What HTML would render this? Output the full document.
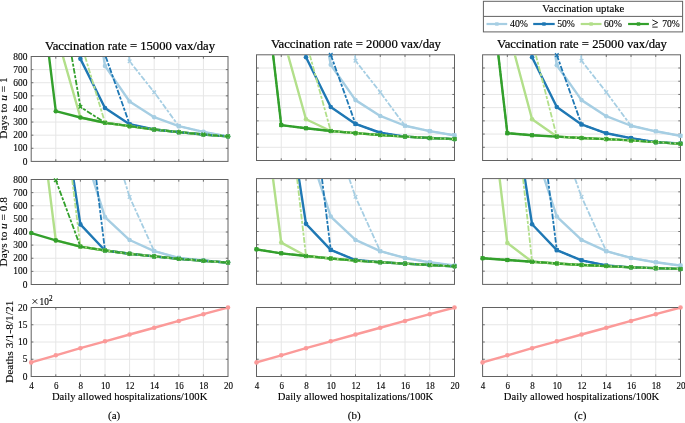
<!DOCTYPE html><html><head><meta charset="utf-8"><title>Vaccination uptake</title><style>html,body{margin:0;padding:0;background:#fff;}body{width:685px;height:423px;overflow:hidden;}svg{display:block;will-change:transform;}text{font-family:"Liberation Serif", serif;fill:#000;stroke:#000;stroke-width:0.12px;}.tt{stroke-width:0.22px;}</style></head><body>
<svg width="685" height="423" viewBox="0 0 685 423">
<rect x="0" y="0" width="685" height="423" fill="#fff"/>
<defs>
<clipPath id="c00"><rect x="31.7" y="57" width="195.8" height="103.9"/></clipPath>
<clipPath id="c01"><rect x="31.7" y="180" width="195.8" height="104"/></clipPath>
<clipPath id="c02"><rect x="31.7" y="308" width="195.8" height="68"/></clipPath>
<clipPath id="c10"><rect x="257" y="55.3" width="197" height="104.7"/></clipPath>
<clipPath id="c11"><rect x="257" y="179.1" width="197" height="104.8"/></clipPath>
<clipPath id="c12"><rect x="257" y="308" width="197" height="68"/></clipPath>
<clipPath id="c20"><rect x="483.1" y="55.3" width="196.9" height="104.7"/></clipPath>
<clipPath id="c21"><rect x="483.1" y="179.1" width="196.9" height="104.8"/></clipPath>
<clipPath id="c22"><rect x="483.1" y="308" width="196.9" height="68"/></clipPath>
</defs>
<path d="M55.8 56.5V161.4M80.4 56.5V161.4M105 56.5V161.4M129.6 56.5V161.4M154.2 56.5V161.4M178.8 56.5V161.4M203.4 56.5V161.4M31.2 148.29H228M31.2 135.18H228M31.2 122.06H228M31.2 108.95H228M31.2 95.84H228M31.2 82.73H228M31.2 69.61H228" stroke="#e6e6e6" stroke-width="1" fill="none"/>
<path d="M55.8 161.4v-2.2M55.8 56.5v2.2M80.4 161.4v-2.2M80.4 56.5v2.2M105 161.4v-2.2M105 56.5v2.2M129.6 161.4v-2.2M129.6 56.5v2.2M154.2 161.4v-2.2M154.2 56.5v2.2M178.8 161.4v-2.2M178.8 56.5v2.2M203.4 161.4v-2.2M203.4 56.5v2.2M31.2 148.29h2.2M228 148.29h-2.2M31.2 135.18h2.2M228 135.18h-2.2M31.2 122.06h2.2M228 122.06h-2.2M31.2 108.95h2.2M228 108.95h-2.2M31.2 95.84h2.2M228 95.84h-2.2M31.2 82.73h2.2M228 82.73h-2.2M31.2 69.61h2.2M228 69.61h-2.2" stroke="#626262" stroke-width="0.9" fill="none"/>
<rect x="31.2" y="56.5" width="196.8" height="104.9" fill="none" stroke="#626262" stroke-width="1"/>
<g clip-path="url(#c00)">
<path d="M103.49 56.5 L105 65.94 L129.6 101.48 L154.2 117.21 L178.8 126.13 L203.4 131.9 L228 136.36" fill="none" stroke="#a6cee3" stroke-width="2.4" stroke-linejoin="round"/>
</g>
<circle cx="105" cy="65.94" r="2.3" fill="#a6cee3"/>
<circle cx="129.6" cy="101.48" r="2.3" fill="#a6cee3"/>
<circle cx="154.2" cy="117.21" r="2.3" fill="#a6cee3"/>
<circle cx="178.8" cy="126.13" r="2.3" fill="#a6cee3"/>
<circle cx="203.4" cy="131.9" r="2.3" fill="#a6cee3"/>
<circle cx="228" cy="136.36" r="2.3" fill="#a6cee3"/>
<g clip-path="url(#c00)">
<path d="M80.2 56.5 L80.4 58.86 L105 108.03 L129.6 124.29 L154.2 129.54 L178.8 132.16 L203.4 134.52 L228 136.36" fill="none" stroke="#1f78b4" stroke-width="2.4" stroke-linejoin="round"/>
</g>
<circle cx="80.4" cy="58.86" r="2.3" fill="#1f78b4"/>
<circle cx="105" cy="108.03" r="2.3" fill="#1f78b4"/>
<circle cx="129.6" cy="124.29" r="2.3" fill="#1f78b4"/>
<circle cx="154.2" cy="129.54" r="2.3" fill="#1f78b4"/>
<circle cx="178.8" cy="132.16" r="2.3" fill="#1f78b4"/>
<circle cx="203.4" cy="134.52" r="2.3" fill="#1f78b4"/>
<circle cx="228" cy="136.36" r="2.3" fill="#1f78b4"/>
<g clip-path="url(#c00)">
<path d="M62.94 56.5 L80.4 117.47 L105 122.72 L129.6 126.13 L154.2 129.54 L178.8 132.16 L203.4 134.52 L228 136.36" fill="none" stroke="#b2df8a" stroke-width="2.4" stroke-linejoin="round"/>
</g>
<circle cx="80.4" cy="117.47" r="2.3" fill="#b2df8a"/>
<circle cx="105" cy="122.72" r="2.3" fill="#b2df8a"/>
<circle cx="129.6" cy="126.13" r="2.3" fill="#b2df8a"/>
<circle cx="154.2" cy="129.54" r="2.3" fill="#b2df8a"/>
<circle cx="178.8" cy="132.16" r="2.3" fill="#b2df8a"/>
<circle cx="203.4" cy="134.52" r="2.3" fill="#b2df8a"/>
<circle cx="228" cy="136.36" r="2.3" fill="#b2df8a"/>
<g clip-path="url(#c00)">
<path d="M49.04 56.5 L55.8 111.18 L80.4 117.47 L105 122.72 L129.6 126.13 L154.2 129.54 L178.8 132.16 L203.4 134.52 L228 136.36" fill="none" stroke="#33a02c" stroke-width="2.4" stroke-linejoin="round"/>
</g>
<circle cx="55.8" cy="111.18" r="2.3" fill="#33a02c"/>
<circle cx="80.4" cy="117.47" r="2.3" fill="#33a02c"/>
<circle cx="105" cy="122.72" r="2.3" fill="#33a02c"/>
<circle cx="129.6" cy="126.13" r="2.3" fill="#33a02c"/>
<circle cx="154.2" cy="129.54" r="2.3" fill="#33a02c"/>
<circle cx="178.8" cy="132.16" r="2.3" fill="#33a02c"/>
<circle cx="203.4" cy="134.52" r="2.3" fill="#33a02c"/>
<circle cx="228" cy="136.36" r="2.3" fill="#33a02c"/>
<g clip-path="url(#c00)">
<path d="M129.01 56.5 L129.6 61.35 L154.2 92.3 L178.8 126.13 L203.4 131.9 L228 136.36" fill="none" stroke="#a6cee3" stroke-width="1.8" stroke-dasharray="5.6 1.6 3 1.6"/>
</g>
<path d="M127.8 59.55l3.6 3.6m0 -3.6l-3.6 3.6" stroke="#a6cee3" stroke-width="1.3" fill="none"/>
<path d="M152.4 90.5l3.6 3.6m0 -3.6l-3.6 3.6" stroke="#a6cee3" stroke-width="1.3" fill="none"/>
<path d="M177 124.33l3.6 3.6m0 -3.6l-3.6 3.6" stroke="#a6cee3" stroke-width="1.3" fill="none"/>
<path d="M201.6 130.1l3.6 3.6m0 -3.6l-3.6 3.6" stroke="#a6cee3" stroke-width="1.3" fill="none"/>
<path d="M226.2 134.56l3.6 3.6m0 -3.6l-3.6 3.6" stroke="#a6cee3" stroke-width="1.3" fill="none"/>
<g clip-path="url(#c00)">
<path d="M105.69 56.5 L129.6 124.29 L154.2 129.54 L178.8 132.16 L203.4 134.52 L228 136.36" fill="none" stroke="#1f78b4" stroke-width="1.8" stroke-dasharray="5.6 1.6 3 1.6"/>
</g>
<path d="M127.8 122.49l3.6 3.6m0 -3.6l-3.6 3.6" stroke="#1f78b4" stroke-width="1.3" fill="none"/>
<path d="M152.4 127.74l3.6 3.6m0 -3.6l-3.6 3.6" stroke="#1f78b4" stroke-width="1.3" fill="none"/>
<path d="M177 130.36l3.6 3.6m0 -3.6l-3.6 3.6" stroke="#1f78b4" stroke-width="1.3" fill="none"/>
<path d="M201.6 132.72l3.6 3.6m0 -3.6l-3.6 3.6" stroke="#1f78b4" stroke-width="1.3" fill="none"/>
<path d="M226.2 134.56l3.6 3.6m0 -3.6l-3.6 3.6" stroke="#1f78b4" stroke-width="1.3" fill="none"/>
<g clip-path="url(#c00)">
<path d="M85.06 56.5 L105 122.72 L129.6 126.13 L154.2 129.54 L178.8 132.16 L203.4 134.52 L228 136.36" fill="none" stroke="#b2df8a" stroke-width="1.8" stroke-dasharray="5.6 1.6 3 1.6"/>
</g>
<path d="M103.2 120.92l3.6 3.6m0 -3.6l-3.6 3.6" stroke="#b2df8a" stroke-width="1.3" fill="none"/>
<path d="M127.8 124.33l3.6 3.6m0 -3.6l-3.6 3.6" stroke="#b2df8a" stroke-width="1.3" fill="none"/>
<path d="M152.4 127.74l3.6 3.6m0 -3.6l-3.6 3.6" stroke="#b2df8a" stroke-width="1.3" fill="none"/>
<path d="M177 130.36l3.6 3.6m0 -3.6l-3.6 3.6" stroke="#b2df8a" stroke-width="1.3" fill="none"/>
<path d="M201.6 132.72l3.6 3.6m0 -3.6l-3.6 3.6" stroke="#b2df8a" stroke-width="1.3" fill="none"/>
<path d="M226.2 134.56l3.6 3.6m0 -3.6l-3.6 3.6" stroke="#b2df8a" stroke-width="1.3" fill="none"/>
<g clip-path="url(#c00)">
<path d="M71.69 56.5 L80.4 106.85 L105 122.72 L129.6 126.13 L154.2 129.54 L178.8 132.16 L203.4 134.52 L228 136.36" fill="none" stroke="#33a02c" stroke-width="1.8" stroke-dasharray="5.6 1.6 3 1.6"/>
</g>
<path d="M78.6 105.05l3.6 3.6m0 -3.6l-3.6 3.6" stroke="#33a02c" stroke-width="1.3" fill="none"/>
<path d="M103.2 120.92l3.6 3.6m0 -3.6l-3.6 3.6" stroke="#33a02c" stroke-width="1.3" fill="none"/>
<path d="M127.8 124.33l3.6 3.6m0 -3.6l-3.6 3.6" stroke="#33a02c" stroke-width="1.3" fill="none"/>
<path d="M152.4 127.74l3.6 3.6m0 -3.6l-3.6 3.6" stroke="#33a02c" stroke-width="1.3" fill="none"/>
<path d="M177 130.36l3.6 3.6m0 -3.6l-3.6 3.6" stroke="#33a02c" stroke-width="1.3" fill="none"/>
<path d="M201.6 132.72l3.6 3.6m0 -3.6l-3.6 3.6" stroke="#33a02c" stroke-width="1.3" fill="none"/>
<path d="M226.2 134.56l3.6 3.6m0 -3.6l-3.6 3.6" stroke="#33a02c" stroke-width="1.3" fill="none"/>
<text x="27.4" y="164.5" font-size="10" text-anchor="end" textLength="4.72" lengthAdjust="spacingAndGlyphs">0</text>
<text x="27.4" y="151.39" font-size="10" text-anchor="end" textLength="14.16" lengthAdjust="spacingAndGlyphs">100</text>
<text x="27.4" y="138.28" font-size="10" text-anchor="end" textLength="14.16" lengthAdjust="spacingAndGlyphs">200</text>
<text x="27.4" y="125.16" font-size="10" text-anchor="end" textLength="14.16" lengthAdjust="spacingAndGlyphs">300</text>
<text x="27.4" y="112.05" font-size="10" text-anchor="end" textLength="14.16" lengthAdjust="spacingAndGlyphs">400</text>
<text x="27.4" y="98.94" font-size="10" text-anchor="end" textLength="14.16" lengthAdjust="spacingAndGlyphs">500</text>
<text x="27.4" y="85.83" font-size="10" text-anchor="end" textLength="14.16" lengthAdjust="spacingAndGlyphs">600</text>
<text x="27.4" y="72.71" font-size="10" text-anchor="end" textLength="14.16" lengthAdjust="spacingAndGlyphs">700</text>
<text x="27.4" y="59.6" font-size="10" text-anchor="end" textLength="14.16" lengthAdjust="spacingAndGlyphs">800</text>
<path d="M55.8 179.5V284.5M80.4 179.5V284.5M105 179.5V284.5M129.6 179.5V284.5M154.2 179.5V284.5M178.8 179.5V284.5M203.4 179.5V284.5M31.2 271.38H228M31.2 258.25H228M31.2 245.12H228M31.2 232H228M31.2 218.88H228M31.2 205.75H228M31.2 192.62H228" stroke="#e6e6e6" stroke-width="1" fill="none"/>
<path d="M55.8 284.5v-2.2M55.8 179.5v2.2M80.4 284.5v-2.2M80.4 179.5v2.2M105 284.5v-2.2M105 179.5v2.2M129.6 284.5v-2.2M129.6 179.5v2.2M154.2 284.5v-2.2M154.2 179.5v2.2M178.8 284.5v-2.2M178.8 179.5v2.2M203.4 284.5v-2.2M203.4 179.5v2.2M31.2 271.38h2.2M228 271.38h-2.2M31.2 258.25h2.2M228 258.25h-2.2M31.2 245.12h2.2M228 245.12h-2.2M31.2 232h2.2M228 232h-2.2M31.2 218.88h2.2M228 218.88h-2.2M31.2 205.75h2.2M228 205.75h-2.2M31.2 192.62h2.2M228 192.62h-2.2" stroke="#626262" stroke-width="0.9" fill="none"/>
<rect x="31.2" y="179.5" width="196.8" height="105" fill="none" stroke="#626262" stroke-width="1"/>
<g clip-path="url(#c01)">
<path d="M93.07 179.5 L105 217.17 L129.6 240.01 L154.2 251.16 L178.8 257.86 L203.4 260.35 L228 262.58" fill="none" stroke="#a6cee3" stroke-width="2.4" stroke-linejoin="round"/>
</g>
<circle cx="105" cy="217.17" r="2.3" fill="#a6cee3"/>
<circle cx="129.6" cy="240.01" r="2.3" fill="#a6cee3"/>
<circle cx="154.2" cy="251.16" r="2.3" fill="#a6cee3"/>
<circle cx="178.8" cy="257.86" r="2.3" fill="#a6cee3"/>
<circle cx="203.4" cy="260.35" r="2.3" fill="#a6cee3"/>
<circle cx="228" cy="262.58" r="2.3" fill="#a6cee3"/>
<g clip-path="url(#c01)">
<path d="M73.52 179.5 L80.4 224.39 L105 250.51 L129.6 253.79 L154.2 256.41 L178.8 258.77 L203.4 260.74 L228 262.58" fill="none" stroke="#1f78b4" stroke-width="2.4" stroke-linejoin="round"/>
</g>
<circle cx="80.4" cy="224.39" r="2.3" fill="#1f78b4"/>
<circle cx="105" cy="250.51" r="2.3" fill="#1f78b4"/>
<circle cx="129.6" cy="253.79" r="2.3" fill="#1f78b4"/>
<circle cx="154.2" cy="256.41" r="2.3" fill="#1f78b4"/>
<circle cx="178.8" cy="258.77" r="2.3" fill="#1f78b4"/>
<circle cx="203.4" cy="260.74" r="2.3" fill="#1f78b4"/>
<circle cx="228" cy="262.58" r="2.3" fill="#1f78b4"/>
<g clip-path="url(#c01)">
<path d="M48.18 179.5 L55.8 240.4 L80.4 246.57 L105 250.51 L129.6 253.79 L154.2 256.41 L178.8 258.77 L203.4 260.74 L228 262.58" fill="none" stroke="#b2df8a" stroke-width="2.4" stroke-linejoin="round"/>
</g>
<circle cx="55.8" cy="240.4" r="2.3" fill="#b2df8a"/>
<circle cx="80.4" cy="246.57" r="2.3" fill="#b2df8a"/>
<circle cx="105" cy="250.51" r="2.3" fill="#b2df8a"/>
<circle cx="129.6" cy="253.79" r="2.3" fill="#b2df8a"/>
<circle cx="154.2" cy="256.41" r="2.3" fill="#b2df8a"/>
<circle cx="178.8" cy="258.77" r="2.3" fill="#b2df8a"/>
<circle cx="203.4" cy="260.74" r="2.3" fill="#b2df8a"/>
<circle cx="228" cy="262.58" r="2.3" fill="#b2df8a"/>
<g clip-path="url(#c01)">
<path d="M31.2 233.05 L55.8 240.4 L80.4 246.57 L105 250.51 L129.6 253.79 L154.2 256.41 L178.8 258.77 L203.4 260.74 L228 262.58" fill="none" stroke="#33a02c" stroke-width="2.4" stroke-linejoin="round"/>
</g>
<circle cx="31.2" cy="233.05" r="2.3" fill="#33a02c"/>
<circle cx="55.8" cy="240.4" r="2.3" fill="#33a02c"/>
<circle cx="80.4" cy="246.57" r="2.3" fill="#33a02c"/>
<circle cx="105" cy="250.51" r="2.3" fill="#33a02c"/>
<circle cx="129.6" cy="253.79" r="2.3" fill="#33a02c"/>
<circle cx="154.2" cy="256.41" r="2.3" fill="#33a02c"/>
<circle cx="178.8" cy="258.77" r="2.3" fill="#33a02c"/>
<circle cx="203.4" cy="260.74" r="2.3" fill="#33a02c"/>
<circle cx="228" cy="262.58" r="2.3" fill="#33a02c"/>
<g clip-path="url(#c01)">
<path d="M124.2 179.5 L129.6 196.96 L154.2 251.16 L178.8 257.86 L203.4 260.35 L228 262.58" fill="none" stroke="#a6cee3" stroke-width="1.8" stroke-dasharray="5.6 1.6 3 1.6"/>
</g>
<path d="M127.8 195.16l3.6 3.6m0 -3.6l-3.6 3.6" stroke="#a6cee3" stroke-width="1.3" fill="none"/>
<path d="M152.4 249.36l3.6 3.6m0 -3.6l-3.6 3.6" stroke="#a6cee3" stroke-width="1.3" fill="none"/>
<path d="M177 256.06l3.6 3.6m0 -3.6l-3.6 3.6" stroke="#a6cee3" stroke-width="1.3" fill="none"/>
<path d="M201.6 258.55l3.6 3.6m0 -3.6l-3.6 3.6" stroke="#a6cee3" stroke-width="1.3" fill="none"/>
<path d="M226.2 260.78l3.6 3.6m0 -3.6l-3.6 3.6" stroke="#a6cee3" stroke-width="1.3" fill="none"/>
<g clip-path="url(#c01)">
<path d="M96.27 179.5 L105 250.51 L129.6 253.79 L154.2 256.41 L178.8 258.77 L203.4 260.74 L228 262.58" fill="none" stroke="#1f78b4" stroke-width="1.8" stroke-dasharray="5.6 1.6 3 1.6"/>
</g>
<path d="M103.2 248.71l3.6 3.6m0 -3.6l-3.6 3.6" stroke="#1f78b4" stroke-width="1.3" fill="none"/>
<path d="M127.8 251.99l3.6 3.6m0 -3.6l-3.6 3.6" stroke="#1f78b4" stroke-width="1.3" fill="none"/>
<path d="M152.4 254.61l3.6 3.6m0 -3.6l-3.6 3.6" stroke="#1f78b4" stroke-width="1.3" fill="none"/>
<path d="M177 256.97l3.6 3.6m0 -3.6l-3.6 3.6" stroke="#1f78b4" stroke-width="1.3" fill="none"/>
<path d="M201.6 258.94l3.6 3.6m0 -3.6l-3.6 3.6" stroke="#1f78b4" stroke-width="1.3" fill="none"/>
<path d="M226.2 260.78l3.6 3.6m0 -3.6l-3.6 3.6" stroke="#1f78b4" stroke-width="1.3" fill="none"/>
<g clip-path="url(#c01)">
<path d="M72.16 179.5 L80.4 246.57 L105 250.51 L129.6 253.79 L154.2 256.41 L178.8 258.77 L203.4 260.74 L228 262.58" fill="none" stroke="#b2df8a" stroke-width="1.8" stroke-dasharray="5.6 1.6 3 1.6"/>
</g>
<path d="M78.6 244.77l3.6 3.6m0 -3.6l-3.6 3.6" stroke="#b2df8a" stroke-width="1.3" fill="none"/>
<path d="M103.2 248.71l3.6 3.6m0 -3.6l-3.6 3.6" stroke="#b2df8a" stroke-width="1.3" fill="none"/>
<path d="M127.8 251.99l3.6 3.6m0 -3.6l-3.6 3.6" stroke="#b2df8a" stroke-width="1.3" fill="none"/>
<path d="M152.4 254.61l3.6 3.6m0 -3.6l-3.6 3.6" stroke="#b2df8a" stroke-width="1.3" fill="none"/>
<path d="M177 256.97l3.6 3.6m0 -3.6l-3.6 3.6" stroke="#b2df8a" stroke-width="1.3" fill="none"/>
<path d="M201.6 258.94l3.6 3.6m0 -3.6l-3.6 3.6" stroke="#b2df8a" stroke-width="1.3" fill="none"/>
<path d="M226.2 260.78l3.6 3.6m0 -3.6l-3.6 3.6" stroke="#b2df8a" stroke-width="1.3" fill="none"/>
<g clip-path="url(#c01)">
<path d="M55.74 179.5 L55.8 180.16 L80.4 246.57 L105 250.51 L129.6 253.79 L154.2 256.41 L178.8 258.77 L203.4 260.74 L228 262.58" fill="none" stroke="#33a02c" stroke-width="1.8" stroke-dasharray="5.6 1.6 3 1.6"/>
</g>
<path d="M54 178.36l3.6 3.6m0 -3.6l-3.6 3.6" stroke="#33a02c" stroke-width="1.3" fill="none"/>
<path d="M78.6 244.77l3.6 3.6m0 -3.6l-3.6 3.6" stroke="#33a02c" stroke-width="1.3" fill="none"/>
<path d="M103.2 248.71l3.6 3.6m0 -3.6l-3.6 3.6" stroke="#33a02c" stroke-width="1.3" fill="none"/>
<path d="M127.8 251.99l3.6 3.6m0 -3.6l-3.6 3.6" stroke="#33a02c" stroke-width="1.3" fill="none"/>
<path d="M152.4 254.61l3.6 3.6m0 -3.6l-3.6 3.6" stroke="#33a02c" stroke-width="1.3" fill="none"/>
<path d="M177 256.97l3.6 3.6m0 -3.6l-3.6 3.6" stroke="#33a02c" stroke-width="1.3" fill="none"/>
<path d="M201.6 258.94l3.6 3.6m0 -3.6l-3.6 3.6" stroke="#33a02c" stroke-width="1.3" fill="none"/>
<path d="M226.2 260.78l3.6 3.6m0 -3.6l-3.6 3.6" stroke="#33a02c" stroke-width="1.3" fill="none"/>
<text x="27.4" y="287.6" font-size="10" text-anchor="end" textLength="4.72" lengthAdjust="spacingAndGlyphs">0</text>
<text x="27.4" y="274.48" font-size="10" text-anchor="end" textLength="14.16" lengthAdjust="spacingAndGlyphs">100</text>
<text x="27.4" y="261.35" font-size="10" text-anchor="end" textLength="14.16" lengthAdjust="spacingAndGlyphs">200</text>
<text x="27.4" y="248.22" font-size="10" text-anchor="end" textLength="14.16" lengthAdjust="spacingAndGlyphs">300</text>
<text x="27.4" y="235.1" font-size="10" text-anchor="end" textLength="14.16" lengthAdjust="spacingAndGlyphs">400</text>
<text x="27.4" y="221.97" font-size="10" text-anchor="end" textLength="14.16" lengthAdjust="spacingAndGlyphs">500</text>
<text x="27.4" y="208.85" font-size="10" text-anchor="end" textLength="14.16" lengthAdjust="spacingAndGlyphs">600</text>
<text x="27.4" y="195.72" font-size="10" text-anchor="end" textLength="14.16" lengthAdjust="spacingAndGlyphs">700</text>
<text x="27.4" y="182.6" font-size="10" text-anchor="end" textLength="14.16" lengthAdjust="spacingAndGlyphs">800</text>
<path d="M55.8 307.5V376.5M80.4 307.5V376.5M105 307.5V376.5M129.6 307.5V376.5M154.2 307.5V376.5M178.8 307.5V376.5M203.4 307.5V376.5M31.2 359.25H228M31.2 342H228M31.2 324.75H228" stroke="#e6e6e6" stroke-width="1" fill="none"/>
<path d="M55.8 376.5v-2.2M55.8 307.5v2.2M80.4 376.5v-2.2M80.4 307.5v2.2M105 376.5v-2.2M105 307.5v2.2M129.6 376.5v-2.2M129.6 307.5v2.2M154.2 376.5v-2.2M154.2 307.5v2.2M178.8 376.5v-2.2M178.8 307.5v2.2M203.4 376.5v-2.2M203.4 307.5v2.2M31.2 359.25h2.2M228 359.25h-2.2M31.2 342h2.2M228 342h-2.2M31.2 324.75h2.2M228 324.75h-2.2" stroke="#626262" stroke-width="0.9" fill="none"/>
<rect x="31.2" y="307.5" width="196.8" height="69" fill="none" stroke="#626262" stroke-width="1"/>
<g clip-path="url(#c02)">
<path d="M31.2 362.42 L55.8 355.32 L80.4 348.21 L105 341.31 L129.6 334.51 L154.2 327.75 L178.8 320.95 L203.4 314.19 L228 307.5" fill="none" stroke="#fb9a99" stroke-width="2.4" stroke-linejoin="round"/>
</g>
<circle cx="31.2" cy="362.42" r="2.3" fill="#fb9a99"/>
<circle cx="55.8" cy="355.32" r="2.3" fill="#fb9a99"/>
<circle cx="80.4" cy="348.21" r="2.3" fill="#fb9a99"/>
<circle cx="105" cy="341.31" r="2.3" fill="#fb9a99"/>
<circle cx="129.6" cy="334.51" r="2.3" fill="#fb9a99"/>
<circle cx="154.2" cy="327.75" r="2.3" fill="#fb9a99"/>
<circle cx="178.8" cy="320.95" r="2.3" fill="#fb9a99"/>
<circle cx="203.4" cy="314.19" r="2.3" fill="#fb9a99"/>
<circle cx="228" cy="307.5" r="2.3" fill="#fb9a99"/>
<text x="27.4" y="379.6" font-size="10" text-anchor="end" textLength="4.72" lengthAdjust="spacingAndGlyphs">0</text>
<text x="27.4" y="362.35" font-size="10" text-anchor="end" textLength="4.72" lengthAdjust="spacingAndGlyphs">5</text>
<text x="27.4" y="345.1" font-size="10" text-anchor="end" textLength="9.44" lengthAdjust="spacingAndGlyphs">10</text>
<text x="27.4" y="327.85" font-size="10" text-anchor="end" textLength="9.44" lengthAdjust="spacingAndGlyphs">15</text>
<text x="27.4" y="310.6" font-size="10" text-anchor="end" textLength="9.44" lengthAdjust="spacingAndGlyphs">20</text>
<text x="31.6" y="388.6" font-size="10" text-anchor="middle" textLength="4.5" lengthAdjust="spacingAndGlyphs">4</text>
<text x="56.2" y="388.6" font-size="10" text-anchor="middle" textLength="4.5" lengthAdjust="spacingAndGlyphs">6</text>
<text x="80.8" y="388.6" font-size="10" text-anchor="middle" textLength="4.5" lengthAdjust="spacingAndGlyphs">8</text>
<text x="105.4" y="388.6" font-size="10" text-anchor="middle" textLength="9" lengthAdjust="spacingAndGlyphs">10</text>
<text x="130" y="388.6" font-size="10" text-anchor="middle" textLength="9" lengthAdjust="spacingAndGlyphs">12</text>
<text x="154.6" y="388.6" font-size="10" text-anchor="middle" textLength="9" lengthAdjust="spacingAndGlyphs">14</text>
<text x="179.2" y="388.6" font-size="10" text-anchor="middle" textLength="9" lengthAdjust="spacingAndGlyphs">16</text>
<text x="203.8" y="388.6" font-size="10" text-anchor="middle" textLength="9" lengthAdjust="spacingAndGlyphs">18</text>
<text x="228.4" y="388.6" font-size="10" text-anchor="middle" textLength="9" lengthAdjust="spacingAndGlyphs">20</text>
<text x="129.6" y="400.1" font-size="9.8" text-anchor="middle" textLength="155.4" lengthAdjust="spacingAndGlyphs">Daily allowed hospitalizations/100K</text>
<text class="tt" x="130" y="50.1" font-size="12" text-anchor="middle" textLength="170" lengthAdjust="spacingAndGlyphs">Vaccination rate = 15000 vax/day</text>
<path d="M281.25 54.8V160.5M306 54.8V160.5M330.75 54.8V160.5M355.5 54.8V160.5M380.25 54.8V160.5M405 54.8V160.5M429.75 54.8V160.5M256.5 147.29H454.5M256.5 134.07H454.5M256.5 120.86H454.5M256.5 107.65H454.5M256.5 94.44H454.5M256.5 81.22H454.5M256.5 68.01H454.5" stroke="#e6e6e6" stroke-width="1" fill="none"/>
<path d="M281.25 160.5v-2.2M281.25 54.8v2.2M306 160.5v-2.2M306 54.8v2.2M330.75 160.5v-2.2M330.75 54.8v2.2M355.5 160.5v-2.2M355.5 54.8v2.2M380.25 160.5v-2.2M380.25 54.8v2.2M405 160.5v-2.2M405 54.8v2.2M429.75 160.5v-2.2M429.75 54.8v2.2M256.5 147.29h2.2M454.5 147.29h-2.2M256.5 134.07h2.2M454.5 134.07h-2.2M256.5 120.86h2.2M454.5 120.86h-2.2M256.5 107.65h2.2M454.5 107.65h-2.2M256.5 94.44h2.2M454.5 94.44h-2.2M256.5 81.22h2.2M454.5 81.22h-2.2M256.5 68.01h2.2M454.5 68.01h-2.2" stroke="#626262" stroke-width="0.9" fill="none"/>
<rect x="256.5" y="54.8" width="198" height="105.7" fill="none" stroke="#626262" stroke-width="1"/>
<g clip-path="url(#c10)">
<path d="M328.89 54.8 L330.75 64.71 L355.5 100.12 L380.25 115.97 L405 125.75 L429.75 131.17 L454.5 135.4" fill="none" stroke="#a6cee3" stroke-width="2.4" stroke-linejoin="round"/>
</g>
<circle cx="330.75" cy="64.71" r="2.3" fill="#a6cee3"/>
<circle cx="355.5" cy="100.12" r="2.3" fill="#a6cee3"/>
<circle cx="380.25" cy="115.97" r="2.3" fill="#a6cee3"/>
<circle cx="405" cy="125.75" r="2.3" fill="#a6cee3"/>
<circle cx="429.75" cy="131.17" r="2.3" fill="#a6cee3"/>
<circle cx="454.5" cy="135.4" r="2.3" fill="#a6cee3"/>
<g clip-path="url(#c10)">
<path d="M305.79 54.8 L306 57.31 L330.75 106.99 L355.5 123.9 L380.25 132.75 L405 136.59 L429.75 138.04 L454.5 139.1" fill="none" stroke="#1f78b4" stroke-width="2.4" stroke-linejoin="round"/>
</g>
<circle cx="306" cy="57.31" r="2.3" fill="#1f78b4"/>
<circle cx="330.75" cy="106.99" r="2.3" fill="#1f78b4"/>
<circle cx="355.5" cy="123.9" r="2.3" fill="#1f78b4"/>
<circle cx="380.25" cy="132.75" r="2.3" fill="#1f78b4"/>
<circle cx="405" cy="136.59" r="2.3" fill="#1f78b4"/>
<circle cx="429.75" cy="138.04" r="2.3" fill="#1f78b4"/>
<circle cx="454.5" cy="139.1" r="2.3" fill="#1f78b4"/>
<g clip-path="url(#c10)">
<path d="M287.95 54.8 L306 119.28 L330.75 131.04 L355.5 133.15 L380.25 135 L405 136.59 L429.75 138.04 L454.5 139.1" fill="none" stroke="#b2df8a" stroke-width="2.4" stroke-linejoin="round"/>
</g>
<circle cx="306" cy="119.28" r="2.3" fill="#b2df8a"/>
<circle cx="330.75" cy="131.04" r="2.3" fill="#b2df8a"/>
<circle cx="355.5" cy="133.15" r="2.3" fill="#b2df8a"/>
<circle cx="380.25" cy="135" r="2.3" fill="#b2df8a"/>
<circle cx="405" cy="136.59" r="2.3" fill="#b2df8a"/>
<circle cx="429.75" cy="138.04" r="2.3" fill="#b2df8a"/>
<circle cx="454.5" cy="139.1" r="2.3" fill="#b2df8a"/>
<g clip-path="url(#c10)">
<path d="M273.08 54.8 L281.25 125.09 L306 128.26 L330.75 131.04 L355.5 133.15 L380.25 135 L405 136.59 L429.75 138.04 L454.5 139.1" fill="none" stroke="#33a02c" stroke-width="2.4" stroke-linejoin="round"/>
</g>
<circle cx="281.25" cy="125.09" r="2.3" fill="#33a02c"/>
<circle cx="306" cy="128.26" r="2.3" fill="#33a02c"/>
<circle cx="330.75" cy="131.04" r="2.3" fill="#33a02c"/>
<circle cx="355.5" cy="133.15" r="2.3" fill="#33a02c"/>
<circle cx="380.25" cy="135" r="2.3" fill="#33a02c"/>
<circle cx="405" cy="136.59" r="2.3" fill="#33a02c"/>
<circle cx="429.75" cy="138.04" r="2.3" fill="#33a02c"/>
<circle cx="454.5" cy="139.1" r="2.3" fill="#33a02c"/>
<g clip-path="url(#c10)">
<path d="M355 54.8 L355.5 60.75 L380.25 92.19 L405 125.75 L429.75 131.17 L454.5 135.4" fill="none" stroke="#a6cee3" stroke-width="1.8" stroke-dasharray="5.6 1.6 3 1.6"/>
</g>
<path d="M353.7 58.95l3.6 3.6m0 -3.6l-3.6 3.6" stroke="#a6cee3" stroke-width="1.3" fill="none"/>
<path d="M378.45 90.39l3.6 3.6m0 -3.6l-3.6 3.6" stroke="#a6cee3" stroke-width="1.3" fill="none"/>
<path d="M403.2 123.95l3.6 3.6m0 -3.6l-3.6 3.6" stroke="#a6cee3" stroke-width="1.3" fill="none"/>
<path d="M427.95 129.37l3.6 3.6m0 -3.6l-3.6 3.6" stroke="#a6cee3" stroke-width="1.3" fill="none"/>
<path d="M452.7 133.6l3.6 3.6m0 -3.6l-3.6 3.6" stroke="#a6cee3" stroke-width="1.3" fill="none"/>
<g clip-path="url(#c10)">
<path d="M330.75 54.8 L330.75 54.8 L355.5 123.9 L380.25 132.75 L405 136.59 L429.75 138.04 L454.5 139.1" fill="none" stroke="#1f78b4" stroke-width="1.8" stroke-dasharray="5.6 1.6 3 1.6"/>
</g>
<path d="M328.95 53l3.6 3.6m0 -3.6l-3.6 3.6" stroke="#1f78b4" stroke-width="1.3" fill="none"/>
<path d="M353.7 122.1l3.6 3.6m0 -3.6l-3.6 3.6" stroke="#1f78b4" stroke-width="1.3" fill="none"/>
<path d="M378.45 130.95l3.6 3.6m0 -3.6l-3.6 3.6" stroke="#1f78b4" stroke-width="1.3" fill="none"/>
<path d="M403.2 134.79l3.6 3.6m0 -3.6l-3.6 3.6" stroke="#1f78b4" stroke-width="1.3" fill="none"/>
<path d="M427.95 136.24l3.6 3.6m0 -3.6l-3.6 3.6" stroke="#1f78b4" stroke-width="1.3" fill="none"/>
<path d="M452.7 137.3l3.6 3.6m0 -3.6l-3.6 3.6" stroke="#1f78b4" stroke-width="1.3" fill="none"/>
<g clip-path="url(#c10)">
<path d="M309.72 54.8 L330.75 131.04 L355.5 133.15 L380.25 135 L405 136.59 L429.75 138.04 L454.5 139.1" fill="none" stroke="#b2df8a" stroke-width="1.8" stroke-dasharray="5.6 1.6 3 1.6"/>
</g>
<path d="M328.95 129.24l3.6 3.6m0 -3.6l-3.6 3.6" stroke="#b2df8a" stroke-width="1.3" fill="none"/>
<path d="M353.7 131.35l3.6 3.6m0 -3.6l-3.6 3.6" stroke="#b2df8a" stroke-width="1.3" fill="none"/>
<path d="M378.45 133.2l3.6 3.6m0 -3.6l-3.6 3.6" stroke="#b2df8a" stroke-width="1.3" fill="none"/>
<path d="M403.2 134.79l3.6 3.6m0 -3.6l-3.6 3.6" stroke="#b2df8a" stroke-width="1.3" fill="none"/>
<path d="M427.95 136.24l3.6 3.6m0 -3.6l-3.6 3.6" stroke="#b2df8a" stroke-width="1.3" fill="none"/>
<path d="M452.7 137.3l3.6 3.6m0 -3.6l-3.6 3.6" stroke="#b2df8a" stroke-width="1.3" fill="none"/>
<g clip-path="url(#c10)">
<path d="M273.08 54.8 L281.25 125.09 L306 128.26 L330.75 131.04 L355.5 133.15 L380.25 135 L405 136.59 L429.75 138.04 L454.5 139.1" fill="none" stroke="#33a02c" stroke-width="1.8" stroke-dasharray="5.6 1.6 3 1.6"/>
</g>
<path d="M279.45 123.29l3.6 3.6m0 -3.6l-3.6 3.6" stroke="#33a02c" stroke-width="1.3" fill="none"/>
<path d="M304.2 126.46l3.6 3.6m0 -3.6l-3.6 3.6" stroke="#33a02c" stroke-width="1.3" fill="none"/>
<path d="M328.95 129.24l3.6 3.6m0 -3.6l-3.6 3.6" stroke="#33a02c" stroke-width="1.3" fill="none"/>
<path d="M353.7 131.35l3.6 3.6m0 -3.6l-3.6 3.6" stroke="#33a02c" stroke-width="1.3" fill="none"/>
<path d="M378.45 133.2l3.6 3.6m0 -3.6l-3.6 3.6" stroke="#33a02c" stroke-width="1.3" fill="none"/>
<path d="M403.2 134.79l3.6 3.6m0 -3.6l-3.6 3.6" stroke="#33a02c" stroke-width="1.3" fill="none"/>
<path d="M427.95 136.24l3.6 3.6m0 -3.6l-3.6 3.6" stroke="#33a02c" stroke-width="1.3" fill="none"/>
<path d="M452.7 137.3l3.6 3.6m0 -3.6l-3.6 3.6" stroke="#33a02c" stroke-width="1.3" fill="none"/>
<path d="M281.25 178.6V284.4M306 178.6V284.4M330.75 178.6V284.4M355.5 178.6V284.4M380.25 178.6V284.4M405 178.6V284.4M429.75 178.6V284.4M256.5 271.17H454.5M256.5 257.95H454.5M256.5 244.72H454.5M256.5 231.5H454.5M256.5 218.27H454.5M256.5 205.05H454.5M256.5 191.82H454.5" stroke="#e6e6e6" stroke-width="1" fill="none"/>
<path d="M281.25 284.4v-2.2M281.25 178.6v2.2M306 284.4v-2.2M306 178.6v2.2M330.75 284.4v-2.2M330.75 178.6v2.2M355.5 284.4v-2.2M355.5 178.6v2.2M380.25 284.4v-2.2M380.25 178.6v2.2M405 284.4v-2.2M405 178.6v2.2M429.75 284.4v-2.2M429.75 178.6v2.2M256.5 271.17h2.2M454.5 271.17h-2.2M256.5 257.95h2.2M454.5 257.95h-2.2M256.5 244.72h2.2M454.5 244.72h-2.2M256.5 231.5h2.2M454.5 231.5h-2.2M256.5 218.27h2.2M454.5 218.27h-2.2M256.5 205.05h2.2M454.5 205.05h-2.2M256.5 191.82h2.2M454.5 191.82h-2.2" stroke="#626262" stroke-width="0.9" fill="none"/>
<rect x="256.5" y="178.6" width="198" height="105.8" fill="none" stroke="#626262" stroke-width="1"/>
<g clip-path="url(#c11)">
<path d="M318.38 178.6 L330.75 216.56 L355.5 239.96 L380.25 251.21 L405 257.95 L429.75 262.31 L454.5 265.49" fill="none" stroke="#a6cee3" stroke-width="2.4" stroke-linejoin="round"/>
</g>
<circle cx="330.75" cy="216.56" r="2.3" fill="#a6cee3"/>
<circle cx="355.5" cy="239.96" r="2.3" fill="#a6cee3"/>
<circle cx="380.25" cy="251.21" r="2.3" fill="#a6cee3"/>
<circle cx="405" cy="257.95" r="2.3" fill="#a6cee3"/>
<circle cx="429.75" cy="262.31" r="2.3" fill="#a6cee3"/>
<circle cx="454.5" cy="265.49" r="2.3" fill="#a6cee3"/>
<g clip-path="url(#c11)">
<path d="M298.95 178.6 L306 223.83 L330.75 249.88 L355.5 260.07 L380.25 262.31 L405 263.64 L429.75 264.96 L454.5 266.28" fill="none" stroke="#1f78b4" stroke-width="2.4" stroke-linejoin="round"/>
</g>
<circle cx="306" cy="223.83" r="2.3" fill="#1f78b4"/>
<circle cx="330.75" cy="249.88" r="2.3" fill="#1f78b4"/>
<circle cx="355.5" cy="260.07" r="2.3" fill="#1f78b4"/>
<circle cx="380.25" cy="262.31" r="2.3" fill="#1f78b4"/>
<circle cx="405" cy="263.64" r="2.3" fill="#1f78b4"/>
<circle cx="429.75" cy="264.96" r="2.3" fill="#1f78b4"/>
<circle cx="454.5" cy="266.28" r="2.3" fill="#1f78b4"/>
<g clip-path="url(#c11)">
<path d="M273.01 178.6 L281.25 242.61 L306 255.97 L330.75 258.48 L355.5 260.59 L380.25 262.31 L405 263.64 L429.75 264.96 L454.5 266.28" fill="none" stroke="#b2df8a" stroke-width="2.4" stroke-linejoin="round"/>
</g>
<circle cx="281.25" cy="242.61" r="2.3" fill="#b2df8a"/>
<circle cx="306" cy="255.97" r="2.3" fill="#b2df8a"/>
<circle cx="330.75" cy="258.48" r="2.3" fill="#b2df8a"/>
<circle cx="355.5" cy="260.59" r="2.3" fill="#b2df8a"/>
<circle cx="380.25" cy="262.31" r="2.3" fill="#b2df8a"/>
<circle cx="405" cy="263.64" r="2.3" fill="#b2df8a"/>
<circle cx="429.75" cy="264.96" r="2.3" fill="#b2df8a"/>
<circle cx="454.5" cy="266.28" r="2.3" fill="#b2df8a"/>
<g clip-path="url(#c11)">
<path d="M256.5 249.35 L281.25 253.32 L306 255.97 L330.75 258.48 L355.5 260.59 L380.25 262.31 L405 263.64 L429.75 264.96 L454.5 266.28" fill="none" stroke="#33a02c" stroke-width="2.4" stroke-linejoin="round"/>
</g>
<circle cx="256.5" cy="249.35" r="2.3" fill="#33a02c"/>
<circle cx="281.25" cy="253.32" r="2.3" fill="#33a02c"/>
<circle cx="306" cy="255.97" r="2.3" fill="#33a02c"/>
<circle cx="330.75" cy="258.48" r="2.3" fill="#33a02c"/>
<circle cx="355.5" cy="260.59" r="2.3" fill="#33a02c"/>
<circle cx="380.25" cy="262.31" r="2.3" fill="#33a02c"/>
<circle cx="405" cy="263.64" r="2.3" fill="#33a02c"/>
<circle cx="429.75" cy="264.96" r="2.3" fill="#33a02c"/>
<circle cx="454.5" cy="266.28" r="2.3" fill="#33a02c"/>
<g clip-path="url(#c11)">
<path d="M349.2 178.6 L355.5 196.85 L380.25 251.21 L405 257.95 L429.75 262.31 L454.5 265.49" fill="none" stroke="#a6cee3" stroke-width="1.8" stroke-dasharray="5.6 1.6 3 1.6"/>
</g>
<path d="M353.7 195.05l3.6 3.6m0 -3.6l-3.6 3.6" stroke="#a6cee3" stroke-width="1.3" fill="none"/>
<path d="M378.45 249.41l3.6 3.6m0 -3.6l-3.6 3.6" stroke="#a6cee3" stroke-width="1.3" fill="none"/>
<path d="M403.2 256.15l3.6 3.6m0 -3.6l-3.6 3.6" stroke="#a6cee3" stroke-width="1.3" fill="none"/>
<path d="M427.95 260.51l3.6 3.6m0 -3.6l-3.6 3.6" stroke="#a6cee3" stroke-width="1.3" fill="none"/>
<path d="M452.7 263.69l3.6 3.6m0 -3.6l-3.6 3.6" stroke="#a6cee3" stroke-width="1.3" fill="none"/>
<g clip-path="url(#c11)">
<path d="M321.96 178.6 L330.75 249.88 L355.5 260.07 L380.25 262.31 L405 263.64 L429.75 264.96 L454.5 266.28" fill="none" stroke="#1f78b4" stroke-width="1.8" stroke-dasharray="5.6 1.6 3 1.6"/>
</g>
<path d="M328.95 248.08l3.6 3.6m0 -3.6l-3.6 3.6" stroke="#1f78b4" stroke-width="1.3" fill="none"/>
<path d="M353.7 258.27l3.6 3.6m0 -3.6l-3.6 3.6" stroke="#1f78b4" stroke-width="1.3" fill="none"/>
<path d="M378.45 260.51l3.6 3.6m0 -3.6l-3.6 3.6" stroke="#1f78b4" stroke-width="1.3" fill="none"/>
<path d="M403.2 261.84l3.6 3.6m0 -3.6l-3.6 3.6" stroke="#1f78b4" stroke-width="1.3" fill="none"/>
<path d="M427.95 263.16l3.6 3.6m0 -3.6l-3.6 3.6" stroke="#1f78b4" stroke-width="1.3" fill="none"/>
<path d="M452.7 264.48l3.6 3.6m0 -3.6l-3.6 3.6" stroke="#1f78b4" stroke-width="1.3" fill="none"/>
<g clip-path="url(#c11)">
<path d="M297.09 178.6 L306 255.97 L330.75 258.48 L355.5 260.59 L380.25 262.31 L405 263.64 L429.75 264.96 L454.5 266.28" fill="none" stroke="#b2df8a" stroke-width="1.8" stroke-dasharray="5.6 1.6 3 1.6"/>
</g>
<path d="M304.2 254.17l3.6 3.6m0 -3.6l-3.6 3.6" stroke="#b2df8a" stroke-width="1.3" fill="none"/>
<path d="M328.95 256.68l3.6 3.6m0 -3.6l-3.6 3.6" stroke="#b2df8a" stroke-width="1.3" fill="none"/>
<path d="M353.7 258.79l3.6 3.6m0 -3.6l-3.6 3.6" stroke="#b2df8a" stroke-width="1.3" fill="none"/>
<path d="M378.45 260.51l3.6 3.6m0 -3.6l-3.6 3.6" stroke="#b2df8a" stroke-width="1.3" fill="none"/>
<path d="M403.2 261.84l3.6 3.6m0 -3.6l-3.6 3.6" stroke="#b2df8a" stroke-width="1.3" fill="none"/>
<path d="M427.95 263.16l3.6 3.6m0 -3.6l-3.6 3.6" stroke="#b2df8a" stroke-width="1.3" fill="none"/>
<path d="M452.7 264.48l3.6 3.6m0 -3.6l-3.6 3.6" stroke="#b2df8a" stroke-width="1.3" fill="none"/>
<g clip-path="url(#c11)">
<path d="M256.5 249.35 L281.25 253.32 L306 255.97 L330.75 258.48 L355.5 260.59 L380.25 262.31 L405 263.64 L429.75 264.96 L454.5 266.28" fill="none" stroke="#33a02c" stroke-width="1.8" stroke-dasharray="5.6 1.6 3 1.6"/>
</g>
<path d="M254.7 247.55l3.6 3.6m0 -3.6l-3.6 3.6" stroke="#33a02c" stroke-width="1.3" fill="none"/>
<path d="M279.45 251.52l3.6 3.6m0 -3.6l-3.6 3.6" stroke="#33a02c" stroke-width="1.3" fill="none"/>
<path d="M304.2 254.17l3.6 3.6m0 -3.6l-3.6 3.6" stroke="#33a02c" stroke-width="1.3" fill="none"/>
<path d="M328.95 256.68l3.6 3.6m0 -3.6l-3.6 3.6" stroke="#33a02c" stroke-width="1.3" fill="none"/>
<path d="M353.7 258.79l3.6 3.6m0 -3.6l-3.6 3.6" stroke="#33a02c" stroke-width="1.3" fill="none"/>
<path d="M378.45 260.51l3.6 3.6m0 -3.6l-3.6 3.6" stroke="#33a02c" stroke-width="1.3" fill="none"/>
<path d="M403.2 261.84l3.6 3.6m0 -3.6l-3.6 3.6" stroke="#33a02c" stroke-width="1.3" fill="none"/>
<path d="M427.95 263.16l3.6 3.6m0 -3.6l-3.6 3.6" stroke="#33a02c" stroke-width="1.3" fill="none"/>
<path d="M452.7 264.48l3.6 3.6m0 -3.6l-3.6 3.6" stroke="#33a02c" stroke-width="1.3" fill="none"/>
<path d="M281.25 307.5V376.5M306 307.5V376.5M330.75 307.5V376.5M355.5 307.5V376.5M380.25 307.5V376.5M405 307.5V376.5M429.75 307.5V376.5M256.5 359.25H454.5M256.5 342H454.5M256.5 324.75H454.5" stroke="#e6e6e6" stroke-width="1" fill="none"/>
<path d="M281.25 376.5v-2.2M281.25 307.5v2.2M306 376.5v-2.2M306 307.5v2.2M330.75 376.5v-2.2M330.75 307.5v2.2M355.5 376.5v-2.2M355.5 307.5v2.2M380.25 376.5v-2.2M380.25 307.5v2.2M405 376.5v-2.2M405 307.5v2.2M429.75 376.5v-2.2M429.75 307.5v2.2M256.5 359.25h2.2M454.5 359.25h-2.2M256.5 342h2.2M454.5 342h-2.2M256.5 324.75h2.2M454.5 324.75h-2.2" stroke="#626262" stroke-width="0.9" fill="none"/>
<rect x="256.5" y="307.5" width="198" height="69" fill="none" stroke="#626262" stroke-width="1"/>
<g clip-path="url(#c12)">
<path d="M256.5 362.42 L281.25 355.32 L306 348.21 L330.75 341.31 L355.5 334.51 L380.25 327.75 L405 320.95 L429.75 314.19 L454.5 307.5" fill="none" stroke="#fb9a99" stroke-width="2.4" stroke-linejoin="round"/>
</g>
<circle cx="256.5" cy="362.42" r="2.3" fill="#fb9a99"/>
<circle cx="281.25" cy="355.32" r="2.3" fill="#fb9a99"/>
<circle cx="306" cy="348.21" r="2.3" fill="#fb9a99"/>
<circle cx="330.75" cy="341.31" r="2.3" fill="#fb9a99"/>
<circle cx="355.5" cy="334.51" r="2.3" fill="#fb9a99"/>
<circle cx="380.25" cy="327.75" r="2.3" fill="#fb9a99"/>
<circle cx="405" cy="320.95" r="2.3" fill="#fb9a99"/>
<circle cx="429.75" cy="314.19" r="2.3" fill="#fb9a99"/>
<circle cx="454.5" cy="307.5" r="2.3" fill="#fb9a99"/>
<text x="256.9" y="388.6" font-size="10" text-anchor="middle" textLength="4.5" lengthAdjust="spacingAndGlyphs">4</text>
<text x="281.65" y="388.6" font-size="10" text-anchor="middle" textLength="4.5" lengthAdjust="spacingAndGlyphs">6</text>
<text x="306.4" y="388.6" font-size="10" text-anchor="middle" textLength="4.5" lengthAdjust="spacingAndGlyphs">8</text>
<text x="331.15" y="388.6" font-size="10" text-anchor="middle" textLength="9" lengthAdjust="spacingAndGlyphs">10</text>
<text x="355.9" y="388.6" font-size="10" text-anchor="middle" textLength="9" lengthAdjust="spacingAndGlyphs">12</text>
<text x="380.65" y="388.6" font-size="10" text-anchor="middle" textLength="9" lengthAdjust="spacingAndGlyphs">14</text>
<text x="405.4" y="388.6" font-size="10" text-anchor="middle" textLength="9" lengthAdjust="spacingAndGlyphs">16</text>
<text x="430.15" y="388.6" font-size="10" text-anchor="middle" textLength="9" lengthAdjust="spacingAndGlyphs">18</text>
<text x="454.9" y="388.6" font-size="10" text-anchor="middle" textLength="9" lengthAdjust="spacingAndGlyphs">20</text>
<text x="355.5" y="400.1" font-size="9.8" text-anchor="middle" textLength="155.4" lengthAdjust="spacingAndGlyphs">Daily allowed hospitalizations/100K</text>
<text class="tt" x="355.9" y="48.4" font-size="12" text-anchor="middle" textLength="170" lengthAdjust="spacingAndGlyphs">Vaccination rate = 20000 vax/day</text>
<path d="M507.34 54.8V160.5M532.08 54.8V160.5M556.81 54.8V160.5M581.55 54.8V160.5M606.29 54.8V160.5M631.02 54.8V160.5M655.76 54.8V160.5M482.6 147.29H680.5M482.6 134.07H680.5M482.6 120.86H680.5M482.6 107.65H680.5M482.6 94.44H680.5M482.6 81.22H680.5M482.6 68.01H680.5" stroke="#e6e6e6" stroke-width="1" fill="none"/>
<path d="M507.34 160.5v-2.2M507.34 54.8v2.2M532.08 160.5v-2.2M532.08 54.8v2.2M556.81 160.5v-2.2M556.81 54.8v2.2M581.55 160.5v-2.2M581.55 54.8v2.2M606.29 160.5v-2.2M606.29 54.8v2.2M631.02 160.5v-2.2M631.02 54.8v2.2M655.76 160.5v-2.2M655.76 54.8v2.2M482.6 147.29h2.2M680.5 147.29h-2.2M482.6 134.07h2.2M680.5 134.07h-2.2M482.6 120.86h2.2M680.5 120.86h-2.2M482.6 107.65h2.2M680.5 107.65h-2.2M482.6 94.44h2.2M680.5 94.44h-2.2M482.6 81.22h2.2M680.5 81.22h-2.2M482.6 68.01h2.2M680.5 68.01h-2.2" stroke="#626262" stroke-width="0.9" fill="none"/>
<rect x="482.6" y="54.8" width="197.9" height="105.7" fill="none" stroke="#626262" stroke-width="1"/>
<g clip-path="url(#c20)">
<path d="M555.28 54.8 L556.81 65.24 L581.55 100.12 L606.29 116.24 L631.02 125.75 L655.76 131.3 L680.5 135.79" fill="none" stroke="#a6cee3" stroke-width="2.4" stroke-linejoin="round"/>
</g>
<circle cx="556.81" cy="65.24" r="2.3" fill="#a6cee3"/>
<circle cx="581.55" cy="100.12" r="2.3" fill="#a6cee3"/>
<circle cx="606.29" cy="116.24" r="2.3" fill="#a6cee3"/>
<circle cx="631.02" cy="125.75" r="2.3" fill="#a6cee3"/>
<circle cx="655.76" cy="131.3" r="2.3" fill="#a6cee3"/>
<circle cx="680.5" cy="135.79" r="2.3" fill="#a6cee3"/>
<g clip-path="url(#c20)">
<path d="M531.86 54.8 L532.08 57.31 L556.81 106.99 L581.55 124.43 L606.29 133.28 L631.02 138.17 L655.76 142.13 L680.5 143.46" fill="none" stroke="#1f78b4" stroke-width="2.4" stroke-linejoin="round"/>
</g>
<circle cx="532.08" cy="57.31" r="2.3" fill="#1f78b4"/>
<circle cx="556.81" cy="106.99" r="2.3" fill="#1f78b4"/>
<circle cx="581.55" cy="124.43" r="2.3" fill="#1f78b4"/>
<circle cx="606.29" cy="133.28" r="2.3" fill="#1f78b4"/>
<circle cx="631.02" cy="138.17" r="2.3" fill="#1f78b4"/>
<circle cx="655.76" cy="142.13" r="2.3" fill="#1f78b4"/>
<circle cx="680.5" cy="143.46" r="2.3" fill="#1f78b4"/>
<g clip-path="url(#c20)">
<path d="M514.76 54.8 L532.08 119.28 L556.81 136.59 L581.55 138.04 L606.29 139.1 L631.02 140.42 L655.76 142.13 L680.5 143.72" fill="none" stroke="#b2df8a" stroke-width="2.4" stroke-linejoin="round"/>
</g>
<circle cx="532.08" cy="119.28" r="2.3" fill="#b2df8a"/>
<circle cx="556.81" cy="136.59" r="2.3" fill="#b2df8a"/>
<circle cx="581.55" cy="138.04" r="2.3" fill="#b2df8a"/>
<circle cx="606.29" cy="139.1" r="2.3" fill="#b2df8a"/>
<circle cx="631.02" cy="140.42" r="2.3" fill="#b2df8a"/>
<circle cx="655.76" cy="142.13" r="2.3" fill="#b2df8a"/>
<circle cx="680.5" cy="143.72" r="2.3" fill="#b2df8a"/>
<g clip-path="url(#c20)">
<path d="M498.31 54.8 L507.34 133.15 L532.08 135.26 L556.81 136.59 L581.55 138.04 L606.29 139.1 L631.02 140.42 L655.76 142.13 L680.5 143.72" fill="none" stroke="#33a02c" stroke-width="2.4" stroke-linejoin="round"/>
</g>
<circle cx="507.34" cy="133.15" r="2.3" fill="#33a02c"/>
<circle cx="532.08" cy="135.26" r="2.3" fill="#33a02c"/>
<circle cx="556.81" cy="136.59" r="2.3" fill="#33a02c"/>
<circle cx="581.55" cy="138.04" r="2.3" fill="#33a02c"/>
<circle cx="606.29" cy="139.1" r="2.3" fill="#33a02c"/>
<circle cx="631.02" cy="140.42" r="2.3" fill="#33a02c"/>
<circle cx="655.76" cy="142.13" r="2.3" fill="#33a02c"/>
<circle cx="680.5" cy="143.72" r="2.3" fill="#33a02c"/>
<g clip-path="url(#c20)">
<path d="M581.05 54.8 L581.55 60.75 L606.29 92.19 L631.02 125.75 L655.76 131.3 L680.5 135.79" fill="none" stroke="#a6cee3" stroke-width="1.8" stroke-dasharray="5.6 1.6 3 1.6"/>
</g>
<path d="M579.75 58.95l3.6 3.6m0 -3.6l-3.6 3.6" stroke="#a6cee3" stroke-width="1.3" fill="none"/>
<path d="M604.49 90.39l3.6 3.6m0 -3.6l-3.6 3.6" stroke="#a6cee3" stroke-width="1.3" fill="none"/>
<path d="M629.23 123.95l3.6 3.6m0 -3.6l-3.6 3.6" stroke="#a6cee3" stroke-width="1.3" fill="none"/>
<path d="M653.96 129.5l3.6 3.6m0 -3.6l-3.6 3.6" stroke="#a6cee3" stroke-width="1.3" fill="none"/>
<path d="M678.7 133.99l3.6 3.6m0 -3.6l-3.6 3.6" stroke="#a6cee3" stroke-width="1.3" fill="none"/>
<g clip-path="url(#c20)">
<path d="M556.79 54.8 L556.81 55.06 L581.55 124.43 L606.29 133.28 L631.02 138.17 L655.76 142.13 L680.5 143.46" fill="none" stroke="#1f78b4" stroke-width="1.8" stroke-dasharray="5.6 1.6 3 1.6"/>
</g>
<path d="M555.01 53.26l3.6 3.6m0 -3.6l-3.6 3.6" stroke="#1f78b4" stroke-width="1.3" fill="none"/>
<path d="M579.75 122.63l3.6 3.6m0 -3.6l-3.6 3.6" stroke="#1f78b4" stroke-width="1.3" fill="none"/>
<path d="M604.49 131.48l3.6 3.6m0 -3.6l-3.6 3.6" stroke="#1f78b4" stroke-width="1.3" fill="none"/>
<path d="M629.23 136.37l3.6 3.6m0 -3.6l-3.6 3.6" stroke="#1f78b4" stroke-width="1.3" fill="none"/>
<path d="M653.96 140.33l3.6 3.6m0 -3.6l-3.6 3.6" stroke="#1f78b4" stroke-width="1.3" fill="none"/>
<path d="M678.7 141.66l3.6 3.6m0 -3.6l-3.6 3.6" stroke="#1f78b4" stroke-width="1.3" fill="none"/>
<g clip-path="url(#c20)">
<path d="M535.78 54.8 L556.81 136.59 L581.55 138.04 L606.29 139.1 L631.02 140.42 L655.76 142.13 L680.5 143.72" fill="none" stroke="#b2df8a" stroke-width="1.8" stroke-dasharray="5.6 1.6 3 1.6"/>
</g>
<path d="M555.01 134.79l3.6 3.6m0 -3.6l-3.6 3.6" stroke="#b2df8a" stroke-width="1.3" fill="none"/>
<path d="M579.75 136.24l3.6 3.6m0 -3.6l-3.6 3.6" stroke="#b2df8a" stroke-width="1.3" fill="none"/>
<path d="M604.49 137.3l3.6 3.6m0 -3.6l-3.6 3.6" stroke="#b2df8a" stroke-width="1.3" fill="none"/>
<path d="M629.23 138.62l3.6 3.6m0 -3.6l-3.6 3.6" stroke="#b2df8a" stroke-width="1.3" fill="none"/>
<path d="M653.96 140.33l3.6 3.6m0 -3.6l-3.6 3.6" stroke="#b2df8a" stroke-width="1.3" fill="none"/>
<path d="M678.7 141.92l3.6 3.6m0 -3.6l-3.6 3.6" stroke="#b2df8a" stroke-width="1.3" fill="none"/>
<g clip-path="url(#c20)">
<path d="M498.31 54.8 L507.34 133.15 L532.08 135.26 L556.81 136.59 L581.55 138.04 L606.29 139.1 L631.02 140.42 L655.76 142.13 L680.5 143.72" fill="none" stroke="#33a02c" stroke-width="1.8" stroke-dasharray="5.6 1.6 3 1.6"/>
</g>
<path d="M505.54 131.35l3.6 3.6m0 -3.6l-3.6 3.6" stroke="#33a02c" stroke-width="1.3" fill="none"/>
<path d="M530.28 133.46l3.6 3.6m0 -3.6l-3.6 3.6" stroke="#33a02c" stroke-width="1.3" fill="none"/>
<path d="M555.01 134.79l3.6 3.6m0 -3.6l-3.6 3.6" stroke="#33a02c" stroke-width="1.3" fill="none"/>
<path d="M579.75 136.24l3.6 3.6m0 -3.6l-3.6 3.6" stroke="#33a02c" stroke-width="1.3" fill="none"/>
<path d="M604.49 137.3l3.6 3.6m0 -3.6l-3.6 3.6" stroke="#33a02c" stroke-width="1.3" fill="none"/>
<path d="M629.23 138.62l3.6 3.6m0 -3.6l-3.6 3.6" stroke="#33a02c" stroke-width="1.3" fill="none"/>
<path d="M653.96 140.33l3.6 3.6m0 -3.6l-3.6 3.6" stroke="#33a02c" stroke-width="1.3" fill="none"/>
<path d="M678.7 141.92l3.6 3.6m0 -3.6l-3.6 3.6" stroke="#33a02c" stroke-width="1.3" fill="none"/>
<path d="M507.34 178.6V284.4M532.08 178.6V284.4M556.81 178.6V284.4M581.55 178.6V284.4M606.29 178.6V284.4M631.02 178.6V284.4M655.76 178.6V284.4M482.6 271.17H680.5M482.6 257.95H680.5M482.6 244.72H680.5M482.6 231.5H680.5M482.6 218.27H680.5M482.6 205.05H680.5M482.6 191.82H680.5" stroke="#e6e6e6" stroke-width="1" fill="none"/>
<path d="M507.34 284.4v-2.2M507.34 178.6v2.2M532.08 284.4v-2.2M532.08 178.6v2.2M556.81 284.4v-2.2M556.81 178.6v2.2M581.55 284.4v-2.2M581.55 178.6v2.2M606.29 284.4v-2.2M606.29 178.6v2.2M631.02 284.4v-2.2M631.02 178.6v2.2M655.76 284.4v-2.2M655.76 178.6v2.2M482.6 271.17h2.2M680.5 271.17h-2.2M482.6 257.95h2.2M680.5 257.95h-2.2M482.6 244.72h2.2M680.5 244.72h-2.2M482.6 231.5h2.2M680.5 231.5h-2.2M482.6 218.27h2.2M680.5 218.27h-2.2M482.6 205.05h2.2M680.5 205.05h-2.2M482.6 191.82h2.2M680.5 191.82h-2.2" stroke="#626262" stroke-width="0.9" fill="none"/>
<rect x="482.6" y="178.6" width="197.9" height="105.8" fill="none" stroke="#626262" stroke-width="1"/>
<g clip-path="url(#c21)">
<path d="M544.31 178.6 L556.81 216.56 L581.55 239.96 L606.29 251.21 L631.02 257.95 L655.76 262.31 L680.5 265.49" fill="none" stroke="#a6cee3" stroke-width="2.4" stroke-linejoin="round"/>
</g>
<circle cx="556.81" cy="216.56" r="2.3" fill="#a6cee3"/>
<circle cx="581.55" cy="239.96" r="2.3" fill="#a6cee3"/>
<circle cx="606.29" cy="251.21" r="2.3" fill="#a6cee3"/>
<circle cx="631.02" cy="257.95" r="2.3" fill="#a6cee3"/>
<circle cx="655.76" cy="262.31" r="2.3" fill="#a6cee3"/>
<circle cx="680.5" cy="265.49" r="2.3" fill="#a6cee3"/>
<g clip-path="url(#c21)">
<path d="M524.87 178.6 L532.08 224.23 L556.81 250.15 L581.55 260.33 L606.29 265.49 L631.02 267.34 L655.76 268.13 L680.5 268.93" fill="none" stroke="#1f78b4" stroke-width="2.4" stroke-linejoin="round"/>
</g>
<circle cx="532.08" cy="224.23" r="2.3" fill="#1f78b4"/>
<circle cx="556.81" cy="250.15" r="2.3" fill="#1f78b4"/>
<circle cx="581.55" cy="260.33" r="2.3" fill="#1f78b4"/>
<circle cx="606.29" cy="265.49" r="2.3" fill="#1f78b4"/>
<circle cx="631.02" cy="267.34" r="2.3" fill="#1f78b4"/>
<circle cx="655.76" cy="268.13" r="2.3" fill="#1f78b4"/>
<circle cx="680.5" cy="268.93" r="2.3" fill="#1f78b4"/>
<g clip-path="url(#c21)">
<path d="M499.6 178.6 L507.34 243.01 L532.08 261.79 L556.81 263.5 L581.55 264.96 L606.29 266.02 L631.02 267.34 L655.76 268.13 L680.5 268.93" fill="none" stroke="#b2df8a" stroke-width="2.4" stroke-linejoin="round"/>
</g>
<circle cx="507.34" cy="243.01" r="2.3" fill="#b2df8a"/>
<circle cx="532.08" cy="261.79" r="2.3" fill="#b2df8a"/>
<circle cx="556.81" cy="263.5" r="2.3" fill="#b2df8a"/>
<circle cx="581.55" cy="264.96" r="2.3" fill="#b2df8a"/>
<circle cx="606.29" cy="266.02" r="2.3" fill="#b2df8a"/>
<circle cx="631.02" cy="267.34" r="2.3" fill="#b2df8a"/>
<circle cx="655.76" cy="268.13" r="2.3" fill="#b2df8a"/>
<circle cx="680.5" cy="268.93" r="2.3" fill="#b2df8a"/>
<g clip-path="url(#c21)">
<path d="M482.6 258.21 L507.34 259.93 L532.08 261.79 L556.81 263.5 L581.55 264.96 L606.29 266.02 L631.02 267.34 L655.76 268.13 L680.5 268.93" fill="none" stroke="#33a02c" stroke-width="2.4" stroke-linejoin="round"/>
</g>
<circle cx="482.6" cy="258.21" r="2.3" fill="#33a02c"/>
<circle cx="507.34" cy="259.93" r="2.3" fill="#33a02c"/>
<circle cx="532.08" cy="261.79" r="2.3" fill="#33a02c"/>
<circle cx="556.81" cy="263.5" r="2.3" fill="#33a02c"/>
<circle cx="581.55" cy="264.96" r="2.3" fill="#33a02c"/>
<circle cx="606.29" cy="266.02" r="2.3" fill="#33a02c"/>
<circle cx="631.02" cy="267.34" r="2.3" fill="#33a02c"/>
<circle cx="655.76" cy="268.13" r="2.3" fill="#33a02c"/>
<circle cx="680.5" cy="268.93" r="2.3" fill="#33a02c"/>
<g clip-path="url(#c21)">
<path d="M575 178.6 L581.55 196.85 L606.29 251.21 L631.02 257.95 L655.76 262.31 L680.5 265.49" fill="none" stroke="#a6cee3" stroke-width="1.8" stroke-dasharray="5.6 1.6 3 1.6"/>
</g>
<path d="M579.75 195.05l3.6 3.6m0 -3.6l-3.6 3.6" stroke="#a6cee3" stroke-width="1.3" fill="none"/>
<path d="M604.49 249.41l3.6 3.6m0 -3.6l-3.6 3.6" stroke="#a6cee3" stroke-width="1.3" fill="none"/>
<path d="M629.23 256.15l3.6 3.6m0 -3.6l-3.6 3.6" stroke="#a6cee3" stroke-width="1.3" fill="none"/>
<path d="M653.96 260.51l3.6 3.6m0 -3.6l-3.6 3.6" stroke="#a6cee3" stroke-width="1.3" fill="none"/>
<path d="M678.7 263.69l3.6 3.6m0 -3.6l-3.6 3.6" stroke="#a6cee3" stroke-width="1.3" fill="none"/>
<g clip-path="url(#c21)">
<path d="M547.91 178.6 L556.81 250.15 L581.55 260.33 L606.29 265.49 L631.02 267.34 L655.76 268.13 L680.5 268.93" fill="none" stroke="#1f78b4" stroke-width="1.8" stroke-dasharray="5.6 1.6 3 1.6"/>
</g>
<path d="M555.01 248.35l3.6 3.6m0 -3.6l-3.6 3.6" stroke="#1f78b4" stroke-width="1.3" fill="none"/>
<path d="M579.75 258.53l3.6 3.6m0 -3.6l-3.6 3.6" stroke="#1f78b4" stroke-width="1.3" fill="none"/>
<path d="M604.49 263.69l3.6 3.6m0 -3.6l-3.6 3.6" stroke="#1f78b4" stroke-width="1.3" fill="none"/>
<path d="M629.23 265.54l3.6 3.6m0 -3.6l-3.6 3.6" stroke="#1f78b4" stroke-width="1.3" fill="none"/>
<path d="M653.96 266.33l3.6 3.6m0 -3.6l-3.6 3.6" stroke="#1f78b4" stroke-width="1.3" fill="none"/>
<path d="M678.7 267.13l3.6 3.6m0 -3.6l-3.6 3.6" stroke="#1f78b4" stroke-width="1.3" fill="none"/>
<g clip-path="url(#c21)">
<path d="M523.07 178.6 L532.08 261.79 L556.81 263.5 L581.55 264.96 L606.29 266.02 L631.02 267.34 L655.76 268.13 L680.5 268.93" fill="none" stroke="#b2df8a" stroke-width="1.8" stroke-dasharray="5.6 1.6 3 1.6"/>
</g>
<path d="M530.28 259.99l3.6 3.6m0 -3.6l-3.6 3.6" stroke="#b2df8a" stroke-width="1.3" fill="none"/>
<path d="M555.01 261.7l3.6 3.6m0 -3.6l-3.6 3.6" stroke="#b2df8a" stroke-width="1.3" fill="none"/>
<path d="M579.75 263.16l3.6 3.6m0 -3.6l-3.6 3.6" stroke="#b2df8a" stroke-width="1.3" fill="none"/>
<path d="M604.49 264.22l3.6 3.6m0 -3.6l-3.6 3.6" stroke="#b2df8a" stroke-width="1.3" fill="none"/>
<path d="M629.23 265.54l3.6 3.6m0 -3.6l-3.6 3.6" stroke="#b2df8a" stroke-width="1.3" fill="none"/>
<path d="M653.96 266.33l3.6 3.6m0 -3.6l-3.6 3.6" stroke="#b2df8a" stroke-width="1.3" fill="none"/>
<path d="M678.7 267.13l3.6 3.6m0 -3.6l-3.6 3.6" stroke="#b2df8a" stroke-width="1.3" fill="none"/>
<g clip-path="url(#c21)">
<path d="M482.6 258.21 L507.34 259.93 L532.08 261.79 L556.81 263.5 L581.55 264.96 L606.29 266.02 L631.02 267.34 L655.76 268.13 L680.5 268.93" fill="none" stroke="#33a02c" stroke-width="1.8" stroke-dasharray="5.6 1.6 3 1.6"/>
</g>
<path d="M480.8 256.41l3.6 3.6m0 -3.6l-3.6 3.6" stroke="#33a02c" stroke-width="1.3" fill="none"/>
<path d="M505.54 258.13l3.6 3.6m0 -3.6l-3.6 3.6" stroke="#33a02c" stroke-width="1.3" fill="none"/>
<path d="M530.28 259.99l3.6 3.6m0 -3.6l-3.6 3.6" stroke="#33a02c" stroke-width="1.3" fill="none"/>
<path d="M555.01 261.7l3.6 3.6m0 -3.6l-3.6 3.6" stroke="#33a02c" stroke-width="1.3" fill="none"/>
<path d="M579.75 263.16l3.6 3.6m0 -3.6l-3.6 3.6" stroke="#33a02c" stroke-width="1.3" fill="none"/>
<path d="M604.49 264.22l3.6 3.6m0 -3.6l-3.6 3.6" stroke="#33a02c" stroke-width="1.3" fill="none"/>
<path d="M629.23 265.54l3.6 3.6m0 -3.6l-3.6 3.6" stroke="#33a02c" stroke-width="1.3" fill="none"/>
<path d="M653.96 266.33l3.6 3.6m0 -3.6l-3.6 3.6" stroke="#33a02c" stroke-width="1.3" fill="none"/>
<path d="M678.7 267.13l3.6 3.6m0 -3.6l-3.6 3.6" stroke="#33a02c" stroke-width="1.3" fill="none"/>
<path d="M507.34 307.5V376.5M532.08 307.5V376.5M556.81 307.5V376.5M581.55 307.5V376.5M606.29 307.5V376.5M631.02 307.5V376.5M655.76 307.5V376.5M482.6 359.25H680.5M482.6 342H680.5M482.6 324.75H680.5" stroke="#e6e6e6" stroke-width="1" fill="none"/>
<path d="M507.34 376.5v-2.2M507.34 307.5v2.2M532.08 376.5v-2.2M532.08 307.5v2.2M556.81 376.5v-2.2M556.81 307.5v2.2M581.55 376.5v-2.2M581.55 307.5v2.2M606.29 376.5v-2.2M606.29 307.5v2.2M631.02 376.5v-2.2M631.02 307.5v2.2M655.76 376.5v-2.2M655.76 307.5v2.2M482.6 359.25h2.2M680.5 359.25h-2.2M482.6 342h2.2M680.5 342h-2.2M482.6 324.75h2.2M680.5 324.75h-2.2" stroke="#626262" stroke-width="0.9" fill="none"/>
<rect x="482.6" y="307.5" width="197.9" height="69" fill="none" stroke="#626262" stroke-width="1"/>
<g clip-path="url(#c22)">
<path d="M482.6 362.42 L507.34 355.32 L532.08 348.21 L556.81 341.31 L581.55 334.51 L606.29 327.75 L631.02 320.95 L655.76 314.19 L680.5 307.5" fill="none" stroke="#fb9a99" stroke-width="2.4" stroke-linejoin="round"/>
</g>
<circle cx="482.6" cy="362.42" r="2.3" fill="#fb9a99"/>
<circle cx="507.34" cy="355.32" r="2.3" fill="#fb9a99"/>
<circle cx="532.08" cy="348.21" r="2.3" fill="#fb9a99"/>
<circle cx="556.81" cy="341.31" r="2.3" fill="#fb9a99"/>
<circle cx="581.55" cy="334.51" r="2.3" fill="#fb9a99"/>
<circle cx="606.29" cy="327.75" r="2.3" fill="#fb9a99"/>
<circle cx="631.02" cy="320.95" r="2.3" fill="#fb9a99"/>
<circle cx="655.76" cy="314.19" r="2.3" fill="#fb9a99"/>
<circle cx="680.5" cy="307.5" r="2.3" fill="#fb9a99"/>
<text x="483" y="388.6" font-size="10" text-anchor="middle" textLength="4.5" lengthAdjust="spacingAndGlyphs">4</text>
<text x="507.74" y="388.6" font-size="10" text-anchor="middle" textLength="4.5" lengthAdjust="spacingAndGlyphs">6</text>
<text x="532.48" y="388.6" font-size="10" text-anchor="middle" textLength="4.5" lengthAdjust="spacingAndGlyphs">8</text>
<text x="557.21" y="388.6" font-size="10" text-anchor="middle" textLength="9" lengthAdjust="spacingAndGlyphs">10</text>
<text x="581.95" y="388.6" font-size="10" text-anchor="middle" textLength="9" lengthAdjust="spacingAndGlyphs">12</text>
<text x="606.69" y="388.6" font-size="10" text-anchor="middle" textLength="9" lengthAdjust="spacingAndGlyphs">14</text>
<text x="631.42" y="388.6" font-size="10" text-anchor="middle" textLength="9" lengthAdjust="spacingAndGlyphs">16</text>
<text x="656.16" y="388.6" font-size="10" text-anchor="middle" textLength="9" lengthAdjust="spacingAndGlyphs">18</text>
<text x="680.9" y="388.6" font-size="10" text-anchor="middle" textLength="9" lengthAdjust="spacingAndGlyphs">20</text>
<text x="581.55" y="400.1" font-size="9.8" text-anchor="middle" textLength="155.4" lengthAdjust="spacingAndGlyphs">Daily allowed hospitalizations/100K</text>
<text class="tt" x="581.95" y="48.4" font-size="12" text-anchor="middle" textLength="170" lengthAdjust="spacingAndGlyphs">Vaccination rate = 25000 vax/day</text>
<text x="114.2" y="419.4" font-size="11" text-anchor="middle">(a)</text>
<text x="354.2" y="419.4" font-size="11" text-anchor="middle">(b)</text>
<text x="580.3" y="419.4" font-size="11" text-anchor="middle">(c)</text>
<text transform="translate(7.1,108.0) rotate(-90)" font-size="9.6" text-anchor="middle" textLength="61.3" lengthAdjust="spacingAndGlyphs">Days to <tspan font-style="italic">u</tspan> = 1</text>
<text transform="translate(7.1,231.8) rotate(-90)" font-size="9.6" text-anchor="middle" textLength="69.4" lengthAdjust="spacingAndGlyphs">Days to <tspan font-style="italic">u</tspan> = 0.8</text>
<text transform="translate(12.5,341.8) rotate(-90)" font-size="9.6" text-anchor="middle" textLength="82.6" lengthAdjust="spacingAndGlyphs">Deaths 3/1-8/1/21</text>
<path d="M32.6 299.1L37.2 303.7M32.6 303.7L37.2 299.1" stroke="#000" stroke-width="0.85" fill="none"/>
<text x="39.6" y="305.3" font-size="10" textLength="9.3" lengthAdjust="spacingAndGlyphs">10</text><text x="49.1" y="300.7" font-size="7.2">2</text>
<rect x="483.4" y="1.3" width="199.2" height="30.6" fill="#fff" stroke="#626262" stroke-width="1"/>
<path d="M483.4 16.4H682.6" stroke="#626262" stroke-width="1"/>
<text x="583.3" y="11.7" font-size="9.8" text-anchor="middle" textLength="82" lengthAdjust="spacingAndGlyphs">Vaccination uptake</text>
<path d="M486.5 24H507.2" stroke="#a6cee3" stroke-width="2.2"/>
<rect x="495.15" y="22.3" width="3.4" height="3.4" fill="#a6cee3"/>
<text x="510" y="27.1" font-size="10" textLength="17.9" lengthAdjust="spacingAndGlyphs">40%</text>
<path d="M533.2 24H554.7" stroke="#1f78b4" stroke-width="2.2"/>
<rect x="542.25" y="22.3" width="3.4" height="3.4" fill="#1f78b4"/>
<text x="557.2" y="27.1" font-size="10" textLength="17.7" lengthAdjust="spacingAndGlyphs">50%</text>
<path d="M580.7 24H601.5" stroke="#b2df8a" stroke-width="2.2"/>
<rect x="589.4" y="22.3" width="3.4" height="3.4" fill="#b2df8a"/>
<text x="603.9" y="27.1" font-size="10" textLength="18" lengthAdjust="spacingAndGlyphs">60%</text>
<path d="M628.1 24H648.9" stroke="#33a02c" stroke-width="2.2"/>
<rect x="636.8" y="22.3" width="3.4" height="3.4" fill="#33a02c"/>
<path d="M652.3 19.9L657.7 22.55L652.3 25.2M652.3 27.1H657.7" stroke="#000" stroke-width="0.85" fill="none"/>
<text x="662.2" y="27.1" font-size="10" textLength="17.6" lengthAdjust="spacingAndGlyphs">70%</text>
</svg></body></html>
